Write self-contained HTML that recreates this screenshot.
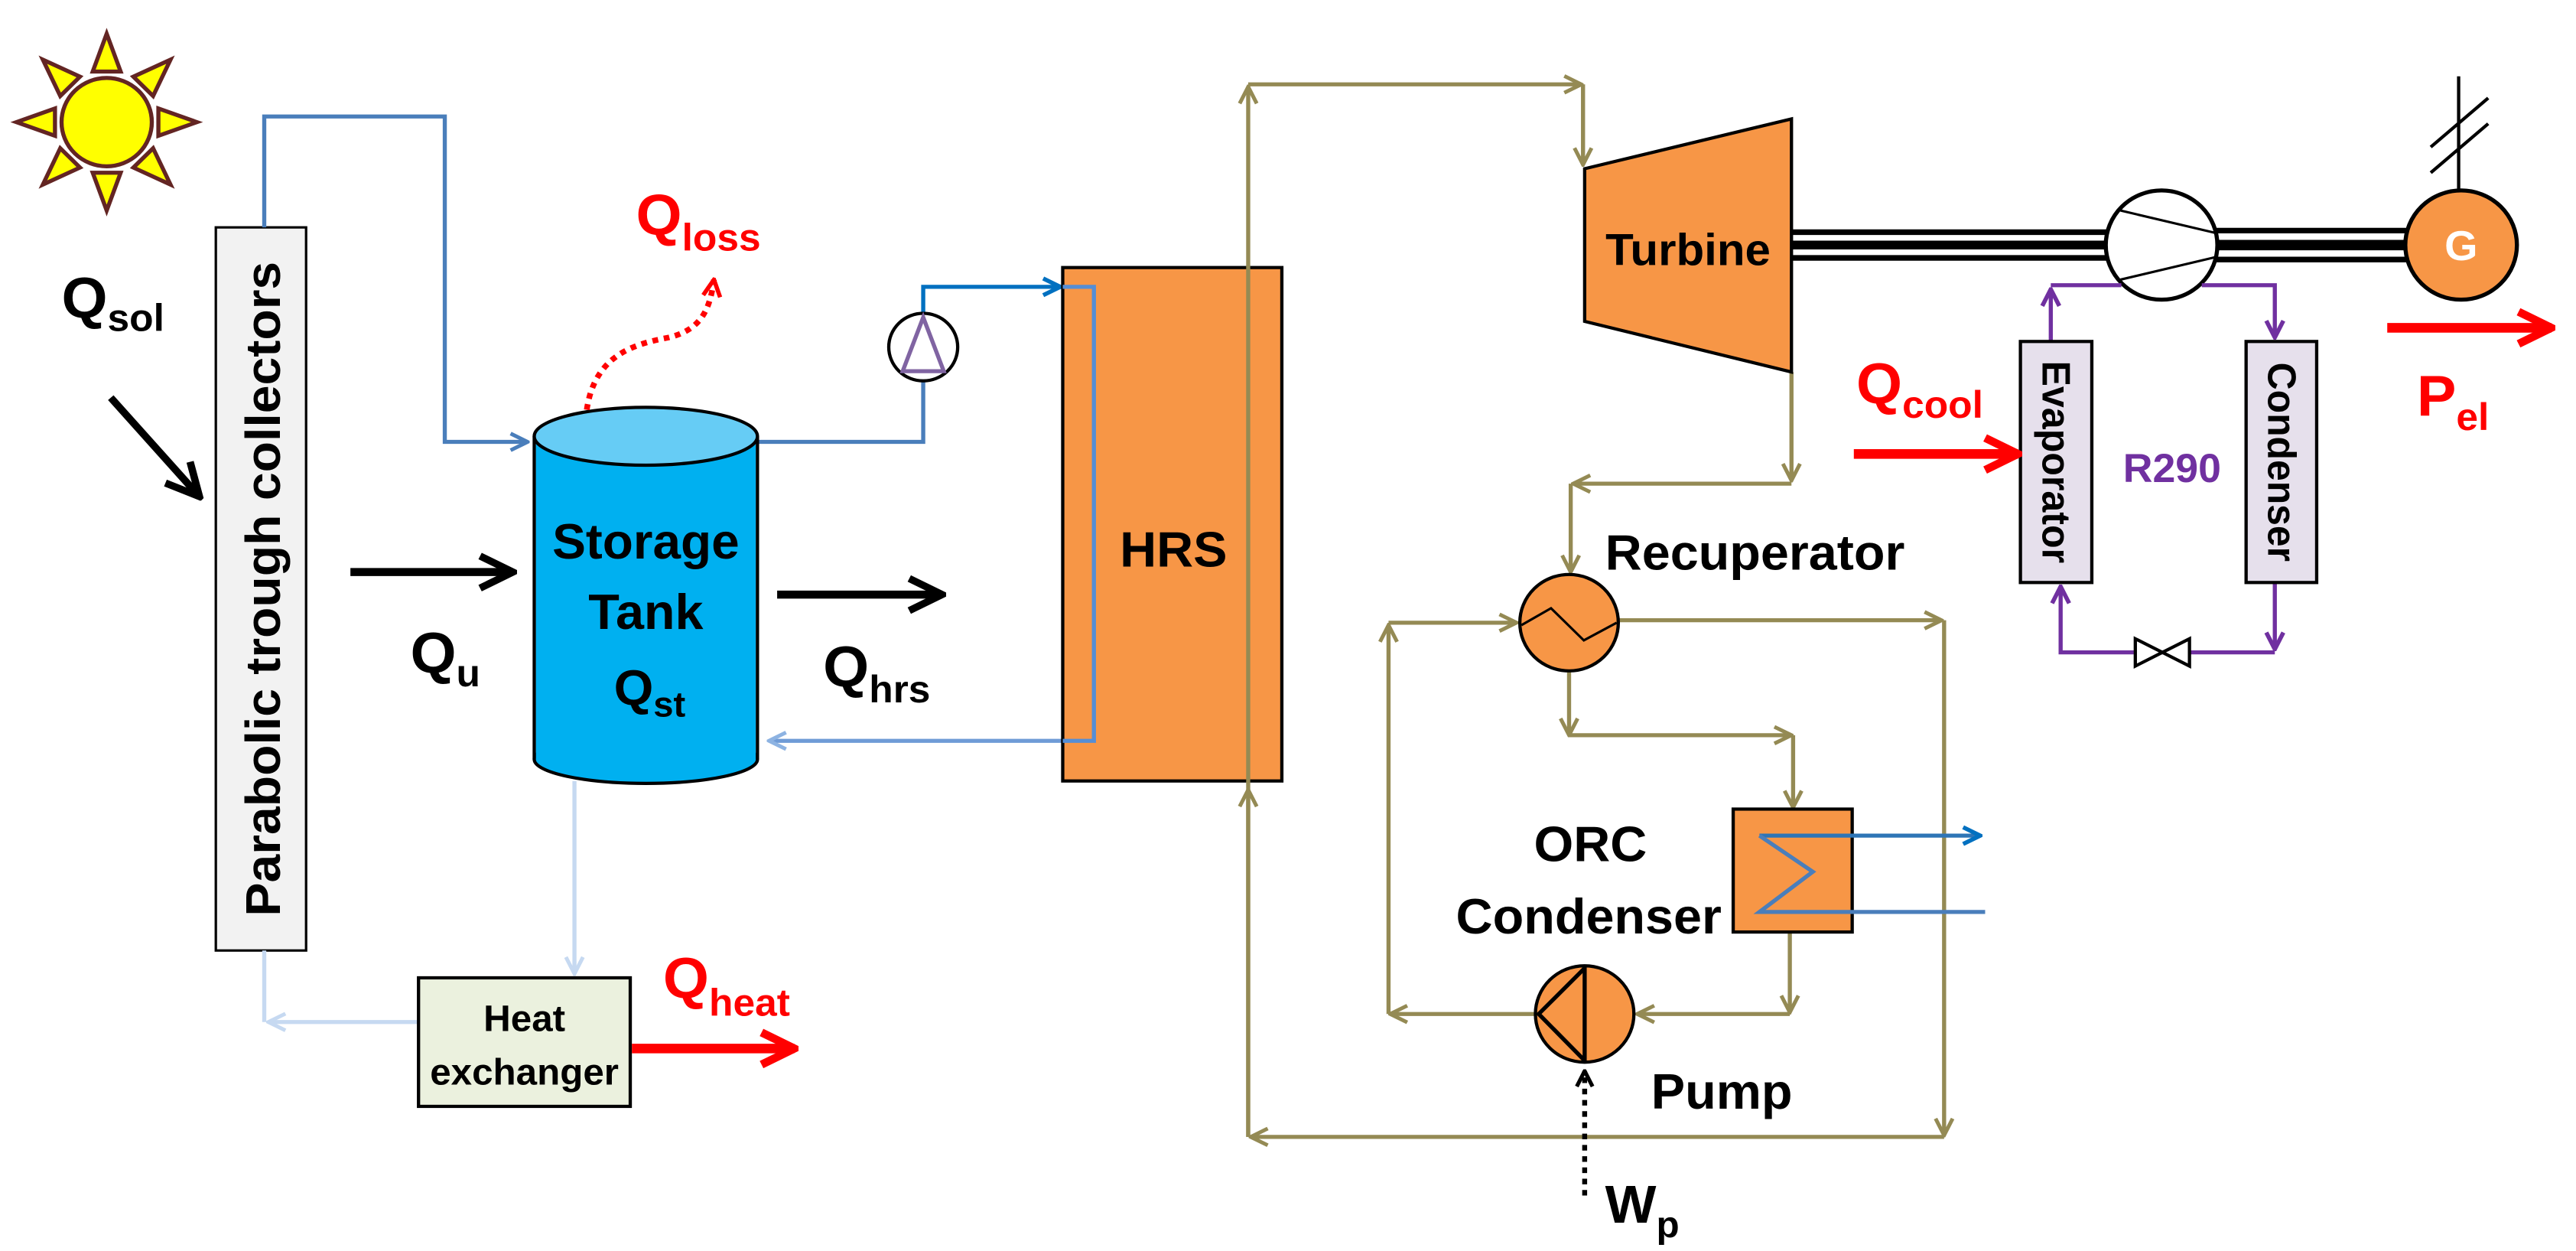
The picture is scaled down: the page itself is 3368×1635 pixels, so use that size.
<!DOCTYPE html>
<html><head><meta charset="utf-8"><style>
html,body{margin:0;padding:0;background:#fff;}
svg{display:block;}
text{font-family:"Liberation Sans",sans-serif;font-weight:bold;}
</style></head><body>
<svg width="3368" height="1635" viewBox="0 0 3139 1557" preserveAspectRatio="none" xmlns="http://www.w3.org/2000/svg">
<defs>
<marker id="ol" viewBox="0 0 10 10" refX="9" refY="5" markerUnits="userSpaceOnUse" markerWidth="26" markerHeight="30" orient="auto"><path d="M1,1 L9,5 L1,9" fill="none" stroke="#948a54" stroke-width="1.8"/></marker>
<marker id="bl" viewBox="0 0 10 10" refX="9" refY="5" markerUnits="userSpaceOnUse" markerWidth="26" markerHeight="30" orient="auto"><path d="M1,1 L9,5 L1,9" fill="none" stroke="#4a7ebb" stroke-width="1.8"/></marker>
<marker id="db" viewBox="0 0 10 10" refX="9" refY="5" markerUnits="userSpaceOnUse" markerWidth="26" markerHeight="30" orient="auto"><path d="M1,1 L9,5 L1,9" fill="none" stroke="#0070c0" stroke-width="2"/></marker>
<marker id="lb" viewBox="0 0 10 10" refX="9" refY="5" markerUnits="userSpaceOnUse" markerWidth="26" markerHeight="30" orient="auto"><path d="M1,1 L9,5 L1,9" fill="none" stroke="#8db3e2" stroke-width="1.8"/></marker>
<marker id="pb" viewBox="0 0 10 10" refX="9" refY="5" markerUnits="userSpaceOnUse" markerWidth="26" markerHeight="30" orient="auto"><path d="M1,1 L9,5 L1,9" fill="none" stroke="#c6d9f1" stroke-width="1.8"/></marker>
<marker id="pu" viewBox="0 0 10 10" refX="9" refY="5" markerUnits="userSpaceOnUse" markerWidth="26" markerHeight="32" orient="auto"><path d="M1,1 L9,5 L1,9" fill="none" stroke="#7030a0" stroke-width="2"/></marker>
<marker id="bk" viewBox="0 0 10 10" refX="9" refY="5" markerUnits="userSpaceOnUse" markerWidth="50" markerHeight="60" orient="auto"><path d="M1,1 L9,5 L1,9" fill="none" stroke="#000" stroke-width="1.8"/></marker>
<marker id="bks" viewBox="0 0 10 10" refX="9" refY="5" markerUnits="userSpaceOnUse" markerWidth="24" markerHeight="28" orient="auto"><path d="M1,1 L9,5 L1,9" fill="none" stroke="#000" stroke-width="2"/></marker>
<marker id="rd" viewBox="0 0 10 10" refX="9" refY="5" markerUnits="userSpaceOnUse" markerWidth="50" markerHeight="60" orient="auto"><path d="M1,1 L9,5 L1,9" fill="none" stroke="#ff0000" stroke-width="2"/></marker>
<marker id="rds" viewBox="0 0 10 10" refX="9" refY="5" markerUnits="userSpaceOnUse" markerWidth="26" markerHeight="30" orient="auto"><path d="M1,1 L9,5 L1,9" fill="none" stroke="#ff0000" stroke-width="2"/></marker>
</defs>

<g stroke="#632523" stroke-width="5" fill="#ffff00">
<g transform="translate(130,152)">
<polygon points="-17,-63 17,-63 0,-110"/>
<polygon points="-17,-63 17,-63 0,-110" transform="rotate(45)"/>
<polygon points="-17,-63 17,-63 0,-110" transform="rotate(90)"/>
<polygon points="-17,-63 17,-63 0,-110" transform="rotate(135)"/>
<polygon points="-17,-63 17,-63 0,-110" transform="rotate(180)"/>
<polygon points="-17,-63 17,-63 0,-110" transform="rotate(225)"/>
<polygon points="-17,-63 17,-63 0,-110" transform="rotate(270)"/>
<polygon points="-17,-63 17,-63 0,-110" transform="rotate(315)"/>
<circle cx="0" cy="0" r="55"/>
</g></g>

<text x="75" y="395" font-size="72">Q<tspan font-size="48" dy="17">sol</tspan></text>
<line x1="135" y1="495" x2="243" y2="618" stroke="#000" stroke-width="9" marker-end="url(#bk)"/>

<rect x="263" y="283" width="110" height="900" fill="#f2f2f2" stroke="#000" stroke-width="3"/>
<text transform="translate(341,733) rotate(-90)" text-anchor="middle" font-size="60" textLength="815" lengthAdjust="spacingAndGlyphs">Parabolic trough collectors</text>

<path d="M322,283 V145 H542 V550 H643" fill="none" stroke="#4a7ebb" stroke-width="5" marker-end="url(#bl)"/>
<path d="M923,550 H1125 V474" fill="none" stroke="#4a7ebb" stroke-width="5"/>
<path d="M1125,390 V357 H1292" fill="none" stroke="#0070c0" stroke-width="5" marker-end="url(#db)"/>
<path d="M1295,357 H1333 V922 H937" fill="none" stroke="#6f9bd6" stroke-width="5" marker-end="url(#lb)"/>
<path d="M700,972 V1212" fill="none" stroke="#c6d9f1" stroke-width="5" marker-end="url(#pb)"/>
<path d="M510,1272 H327" fill="none" stroke="#c6d9f1" stroke-width="5" marker-end="url(#pb)"/>
<path d="M322,1272 V1183" fill="none" stroke="#c6d9f1" stroke-width="5"/>

<ellipse cx="787" cy="945" rx="136" ry="30" fill="#00b0f0" stroke="#000" stroke-width="4"/>
<rect x="653" y="545" width="268" height="400" fill="#00b0f0"/>
<line x1="651" y1="543" x2="651" y2="945" stroke="#000" stroke-width="4"/>
<line x1="923" y1="543" x2="923" y2="945" stroke="#000" stroke-width="4"/>
<ellipse cx="787" cy="543" rx="136" ry="36" fill="#66ccf5" stroke="#000" stroke-width="4"/>
<text x="787" y="695" font-size="62" text-anchor="middle" textLength="228" lengthAdjust="spacingAndGlyphs">Storage</text>
<text x="787" y="783" font-size="62" text-anchor="middle">Tank</text>
<text x="748" y="877" font-size="62">Q<tspan font-size="44" dy="15">st</tspan></text>

<line x1="427" y1="712" x2="625" y2="712" stroke="#000" stroke-width="10" marker-end="url(#bk)"/>
<text x="500" y="837" font-size="72">Q<tspan font-size="48" dy="17">u</tspan></text>
<line x1="947" y1="740" x2="1148" y2="740" stroke="#000" stroke-width="10" marker-end="url(#bk)"/>
<text x="1003" y="854" font-size="72">Q<tspan font-size="48" dy="20">hrs</tspan></text>

<text x="775" y="292" font-size="72" fill="#ff0000">Q<tspan font-size="48" dy="20">loss</tspan></text>
<path d="M715,510 C725,440 775,428 815,420 C855,410 865,385 870,348" fill="none" stroke="#ff0000" stroke-width="7" stroke-dasharray="7,7" marker-end="url(#rds)"/>

<circle cx="1125" cy="432" r="42" fill="#fff" stroke="#000" stroke-width="4"/>
<polygon points="1125,395 1100,462 1150,462" fill="none" stroke="#8064a2" stroke-width="5"/>

<rect x="1295" y="333" width="267" height="639" fill="#f79646" stroke="#000" stroke-width="4"/>
<path d="M1295,357 H1333 V922 H1295" fill="none" stroke="#558ed5" stroke-width="5"/>
<text x="1430" y="705" font-size="62" text-anchor="middle">HRS</text>

<rect x="510" y="1217" width="258" height="160" fill="#ebf1de" stroke="#000" stroke-width="4"/>
<text x="639" y="1283" font-size="46" text-anchor="middle">Heat</text>
<text x="639" y="1350" font-size="46" text-anchor="middle" textLength="230" lengthAdjust="spacingAndGlyphs">exchanger</text>
<line x1="770" y1="1305" x2="968" y2="1305" stroke="#ff0000" stroke-width="12" marker-end="url(#rd)"/>
<text x="808" y="1242" font-size="72" fill="#ff0000">Q<tspan font-size="48" dy="22">heat</tspan></text>

<g fill="none" stroke="#948a54" stroke-width="5">
<path d="M1521,1415 V108" marker-end="url(#ol)"/>
<path d="M1521,1415 V983" marker-end="url(#ol)"/>
<path d="M1521,105 H1927" marker-end="url(#ol)"/>
<path d="M1929,105 V205" marker-end="url(#ol)"/>
<path d="M2183,463 V598" marker-end="url(#ol)"/>
<path d="M2183,602 H1917" marker-end="url(#ol)"/>
<path d="M1914,602 V712" marker-end="url(#ol)"/>
<path d="M1972,772 H2366" marker-end="url(#ol)"/>
<path d="M2369,772 V1413" marker-end="url(#ol)"/>
<path d="M2369,1415 H1524" marker-end="url(#ol)"/>
<path d="M1871,1262 H1694" marker-end="url(#ol)"/>
<path d="M1692,1262 V778" marker-end="url(#ol)"/>
<path d="M1692,775 H1848" marker-end="url(#ol)"/>
<path d="M1912,835 V915" marker-end="url(#ol)"/>
<path d="M1912,915 H2183" marker-end="url(#ol)"/>
<path d="M2185,915 V1005" marker-end="url(#ol)"/>
<path d="M2181,1160 V1260" marker-end="url(#ol)"/>
<path d="M2181,1262 H1995" marker-end="url(#ol)"/>
</g>

<polygon points="1931,210 2183,148 2183,463 1931,400" fill="#f79646" stroke="#000" stroke-width="4"/>
<text x="2057" y="330" font-size="56" text-anchor="middle">Turbine</text>

<g stroke="#000">
<line x1="2183" y1="289" x2="2570" y2="289" stroke-width="7"/>
<line x1="2183" y1="305" x2="2570" y2="305" stroke-width="11"/>
<line x1="2183" y1="321" x2="2570" y2="321" stroke-width="7"/>
<line x1="2698" y1="287" x2="2932" y2="287" stroke-width="7"/>
<line x1="2698" y1="305" x2="2932" y2="305" stroke-width="13"/>
<line x1="2698" y1="323" x2="2932" y2="323" stroke-width="7"/>
</g>
<circle cx="2634" cy="305" r="68" fill="#fff" stroke="#000" stroke-width="5"/>
<line x1="2584" y1="262" x2="2700" y2="290" stroke="#000" stroke-width="3"/>
<line x1="2584" y1="348" x2="2700" y2="320" stroke="#000" stroke-width="3"/>

<line x1="2996" y1="95" x2="2996" y2="237" stroke="#000" stroke-width="4"/>
<line x1="2962" y1="183" x2="3032" y2="122" stroke="#000" stroke-width="4"/>
<line x1="2962" y1="215" x2="3032" y2="154" stroke="#000" stroke-width="4"/>
<circle cx="2999" cy="305" r="68" fill="#f79646" stroke="#000" stroke-width="5"/>
<text x="2999" y="324" font-size="52" text-anchor="middle" fill="#fff">G</text>
<line x1="2909" y1="408" x2="3109" y2="408" stroke="#ff0000" stroke-width="12" marker-end="url(#rd)"/>
<text x="2945" y="517" font-size="72" fill="#ff0000">P<tspan font-size="48" dy="18">el</tspan></text>

<g fill="none" stroke="#7030a0" stroke-width="5">
<path d="M2499,425 V360" marker-end="url(#pu)"/>
<path d="M2499,355 H2585"/>
<path d="M2683,355 H2772 V420" marker-end="url(#pu)"/>
<path d="M2772,725 V808" marker-end="url(#pu)"/>
<path d="M2772,812 H2600"/>
<path d="M2600,812 H2511 V730" marker-end="url(#pu)"/>
</g>
<polygon points="2602,795 2602,829 2635,812" fill="#fff" stroke="#000" stroke-width="4"/>
<polygon points="2668,795 2668,829 2635,812" fill="#fff" stroke="#000" stroke-width="4"/>
<rect x="2462" y="425" width="87" height="300" fill="#e6e0ec" stroke="#000" stroke-width="4"/>
<rect x="2737" y="425" width="86" height="300" fill="#e6e0ec" stroke="#000" stroke-width="4"/>
<text transform="translate(2489,575) rotate(90)" font-size="48" text-anchor="middle" textLength="252" lengthAdjust="spacingAndGlyphs">Evaporator</text>
<text transform="translate(2764,575) rotate(90)" font-size="48" text-anchor="middle" textLength="248" lengthAdjust="spacingAndGlyphs">Condenser</text>
<text x="2587" y="600" font-size="50" fill="#7030a0">R290</text>
<text x="2262" y="502" font-size="72" fill="#ff0000">Q<tspan font-size="48" dy="18">cool</tspan></text>
<line x1="2259" y1="565" x2="2459" y2="565" stroke="#ff0000" stroke-width="12" marker-end="url(#rd)"/>

<circle cx="1912" cy="775" r="60" fill="#f79646" stroke="#000" stroke-width="4"/>
<polyline points="1854,778 1890,757 1930,797 1970,775" fill="none" stroke="#000" stroke-width="3"/>
<text x="1956" y="709" font-size="62">Recuperator</text>

<rect x="2112" y="1007" width="145" height="153" fill="#f79646" stroke="#000" stroke-width="4"/>
<path d="M2144,1040 H2413" fill="none" stroke="#2e75b6" stroke-width="5" marker-end="url(#db)"/>
<path d="M2144,1040 L2209,1085 L2144,1135 H2419" fill="none" stroke="#4a7ebb" stroke-width="5"/>
<text x="1938" y="1072" font-size="62" text-anchor="middle">ORC</text>
<text x="1936" y="1162" font-size="62" text-anchor="middle">Condenser</text>

<circle cx="1931" cy="1262" r="60" fill="#f79646" stroke="#000" stroke-width="4"/>
<line x1="1931" y1="1203" x2="1931" y2="1321" stroke="#000" stroke-width="5"/>
<polyline points="1931,1205 1875,1262 1931,1320" fill="none" stroke="#000" stroke-width="5"/>
<text x="2012" y="1380" font-size="62">Pump</text>
<path d="M1931,1488 V1333" fill="none" stroke="#000" stroke-width="6" stroke-dasharray="7,7" marker-end="url(#bks)"/>
<text x="1956" y="1522" font-size="66">W<tspan font-size="46" dy="18">p</tspan></text>
</svg>
</body></html>
